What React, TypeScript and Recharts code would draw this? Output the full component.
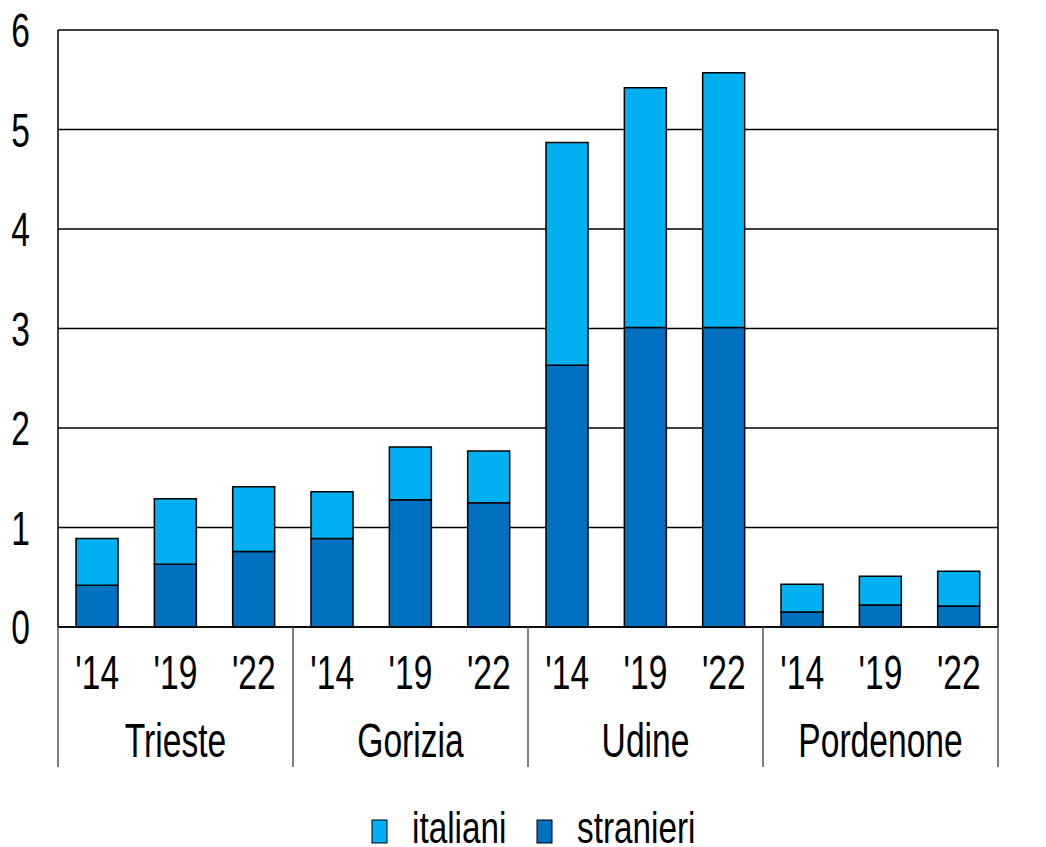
import { Bar, BarChart, CartesianGrid, Legend, XAxis, YAxis } from "recharts";

const PROVINCES = ["Trieste", "Gorizia", "Udine", "Pordenone"];
const YEARS = ["'14", "'19", "'22"];
// valori, per provincia e anno
const STRANIERI = [0.42, 0.63, 0.76, 0.89, 1.28, 1.25, 2.63, 3.01, 3.01, 0.15, 0.22, 0.21];
const ITALIANI = [0.47, 0.66, 0.65, 0.47, 0.53, 0.52, 2.24, 2.41, 2.56, 0.28, 0.29, 0.35];
const Y_TICKS = [0, 1, 2, 3, 4, 5, 6];

const COL_IT = "#00b0f0";
const COL_ST = "#0070c0";
const FONT = "'Liberation Sans', Arial, sans-serif";
const SQUEEZE = 0.7;

const data = STRANIERI.map((s, i) => ({
  key: `${PROVINCES[Math.floor(i / 3)]}-${YEARS[i % 3]}`,
  year: YEARS[i % 3],
  prov: PROVINCES[Math.floor(i / 3)],
  stranieri: s,
  italiani: ITALIANI[i],
}));

function Narrow({
  x,
  y,
  text,
  size = 48,
  anchor = "middle",
  squeeze = SQUEEZE,
}: {
  x: number;
  y: number;
  text: string;
  size?: number;
  anchor?: "start" | "middle" | "end";
  squeeze?: number;
}) {
  return (
    <g transform={`translate(${x},${y}) scale(${squeeze},1)`}>
      <text x={0} y={0} textAnchor={anchor} fontSize={size} fontFamily={FONT} fill="#000">
        {text}
      </text>
    </g>
  );
}

function YTick({ x, y, payload, side }: any) {
  return (
    <Narrow
      x={x}
      y={y + 17}
      text={String(payload.value)}
      anchor={side === "left" ? "end" : "start"}
    />
  );
}

function XTick({ x, y, payload, index }: any) {
  const d = data[index];
  const half = payload?.offset || 940 / 24;
  const sep = "#555";
  return (
    <g>
      <Narrow x={x} y={y + 62} text={d.year} />
      {index % 3 === 1 ? <Narrow x={x} y={y + 130} text={d.prov} /> : null}
      {index % 3 === 0 ? (
        <line x1={x - half} x2={x - half} y1={y} y2={y + 140} stroke={sep} strokeWidth={1.5} />
      ) : null}
      {index === data.length - 1 ? (
        <line x1={x + half} x2={x + half} y1={y} y2={y + 140} stroke={sep} strokeWidth={1.5} />
      ) : null}
    </g>
  );
}

function LegendBox() {
  const items = [
    { label: "italiani", color: COL_IT, x: 372 },
    { label: "stranieri", color: COL_ST, x: 537 },
  ];
  return (
    <svg width={1046} height={46} style={{ display: "block" }}>
      {items.map((it) => (
        <g key={it.label}>
          <rect x={it.x} y={19} width={15} height={23} fill={it.color} stroke="#000" strokeWidth={1} />
          <Narrow x={it.x + 40} y={42} text={it.label} size={45} squeeze={0.74} anchor="start" />
        </g>
      ))}
    </svg>
  );
}

export default function App() {
  return (
    <div style={{ position: "absolute", left: 0, top: 0, width: 1046, height: 847, background: "#fff" }}>
      <BarChart
        width={1046}
        height={847}
        data={data}
        margin={{ top: 30, right: 0, left: 0, bottom: 0 }}
        barCategoryGap="23%"
      >
        <CartesianGrid vertical={false} stroke="#000" strokeWidth={1.3} yAxisId="l" />
        <XAxis
          dataKey="key"
          height={174}
          tickLine={false}
          tickSize={0}
          tickMargin={0}
          axisLine={{ stroke: "#000", strokeWidth: 1.5 }}
          tick={<XTick />}
          interval={0}
        />
        <YAxis
          yAxisId="l"
          width={58}
          domain={[0, 6]}
          ticks={Y_TICKS}
          tickLine={false}
          tickSize={0}
          tickMargin={28}
          axisLine={{ stroke: "#000", strokeWidth: 1.5 }}
          tick={<YTick side="left" />}
        />
        <YAxis
          yAxisId="r"
          orientation="right"
          width={48}
          domain={[0, 6]}
          ticks={Y_TICKS}
          tickLine={false}
          tickSize={0}
          tickMargin={24}
          axisLine={{ stroke: "#000", strokeWidth: 1.5 }}
          tick={<YTick side="right" />}
        />
        <Bar
          yAxisId="l"
          dataKey="stranieri"
          stackId="a"
          fill={COL_ST}
          stroke="#000"
          strokeWidth={1.5}
          isAnimationActive={false}
        />
        <Bar
          yAxisId="l"
          dataKey="italiani"
          stackId="a"
          fill={COL_IT}
          stroke="#000"
          strokeWidth={1.5}
          isAnimationActive={false}
        />
        <Legend
          content={<LegendBox />}
          wrapperStyle={{ position: "absolute", left: 0, top: 801, width: 1046 }}
        />
      </BarChart>
    </div>
  );
}
